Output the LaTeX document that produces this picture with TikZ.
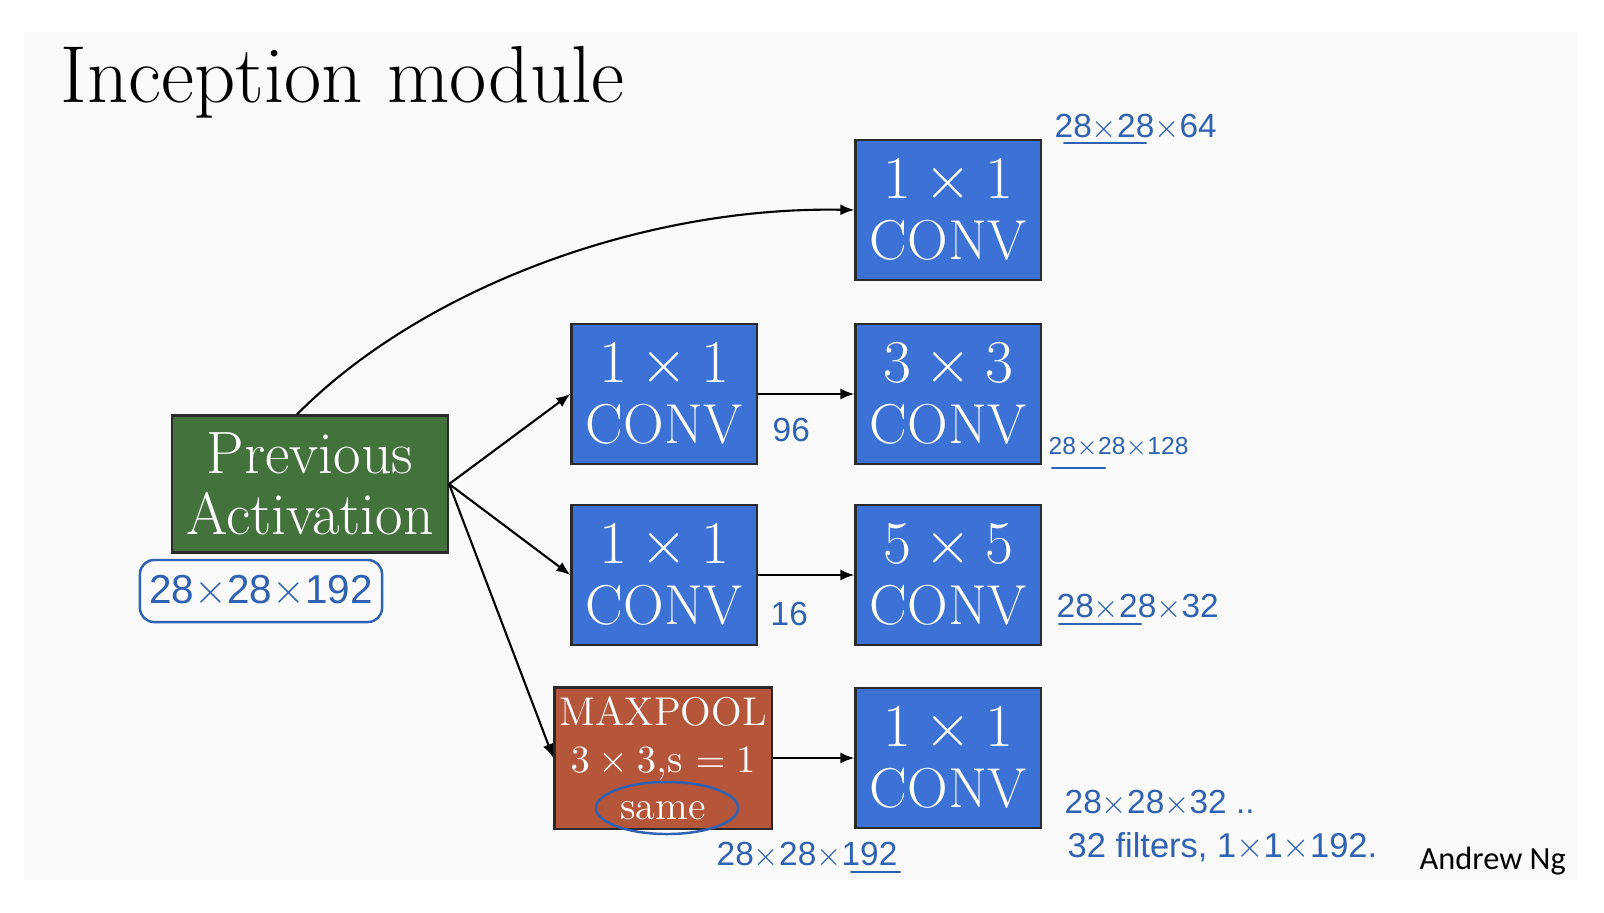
\documentclass[tikz,border=0pt]{standalone}
\usepackage{fontspec}
\newfontfamily\penfont{Liberation Sans}
\newfontfamily\signfont{Carlito}
\usepackage{xcolor}
\definecolor{cConv}{HTML}{3C72D6}
\definecolor{cPrev}{HTML}{43723C}
\definecolor{cPool}{HTML}{B5553A}
\definecolor{cPen}{HTML}{2F62B2}
\definecolor{cBack}{HTML}{FAFAFA}
\definecolor{cEdge}{HTML}{2A2A2A}
\usepackage{tikz}
\usetikzlibrary{positioning,arrows.meta,calc}
\tikzset{
  layer-box/.style={draw=cEdge,line width=0.6pt,text=white,align=center,
    inner sep=0pt},
  conv-box/.style={layer-box,fill=cConv,minimum width=1.85cm,
    minimum height=1.40cm,font=\fontsize{16}{17.4}\selectfont},
  prev-box/.style={layer-box,fill=cPrev,minimum width=2.76cm,
    minimum height=1.37cm,font=\fontsize{17}{17.4}\selectfont},
  pool-box/.style={layer-box,fill=cPool,minimum width=2.17cm,
    minimum height=1.41cm,font=\fontsize{11.4}{13.4}\selectfont},
  arrow/.style={-{Latex[length=1.4mm,width=1.1mm]},line width=0.6pt,draw=black},
  % handwritten notes in blue pen
  pen-note/.style={text=cPen,inner sep=0pt,anchor=west,
    font=\penfont\fontsize{9.5}{11}\selectfont},
  pen-line/.style={draw=cPen,line width=0.6pt,line cap=round},
}

\begin{document}
\begin{tikzpicture}[x=0.01cm,y=-0.01cm]
  \useasboundingbox (0,0) rectangle (1604,912);
  \fill[white] (0,0) rectangle (1604,912);
  \fill[cBack] (24,32) rectangle (1578,880);

  \node[anchor=base west,inner sep=0pt,font=\fontsize{23}{26}\selectfont]
    (title) at (60,102) {Inception module};

  % layers
  \node[prev-box] (prev) at (310,484) {Previous\\Activation};
  \node[conv-box] (convA) at (948,210) {$1\times 1$\\CONV};
  \node[conv-box] (redB)  at (664,394) {$1\times 1$\\CONV};
  \node[conv-box] (convB) at (948,394) {$3\times 3$\\CONV};
  \node[conv-box] (redC)  at (664,575) {$1\times 1$\\CONV};
  \node[conv-box] (convC) at (948,575) {$5\times 5$\\CONV};
  \node[pool-box] (pool)  at (663,758) {MAXPOOL\\$3\times 3$,s $=1$\\same};
  \node[conv-box] (convD) at (948,758) {$1\times 1$\\CONV};

  % connections
  \draw[arrow] ($(prev.north)+(-13,0)$) .. controls (420,290) and (640,206) .. (convA.west);
  \draw[arrow] (prev.east) -- (redB.west);
  \draw[arrow] (prev.east) -- (redC.west);
  \draw[arrow] (prev.east) -- (pool.west);
  \draw[arrow] (redB) -- (convB);
  \draw[arrow] (redC) -- (convC);
  \draw[arrow] (pool) -- (convD);

  % pen notes
  \node[pen-note,draw=cPen,line width=0.7pt,rounded corners=4pt,anchor=center,
    minimum width=2.42cm,minimum height=0.62cm,
    font=\penfont\fontsize{11.5}{13}\selectfont] (inDim) at (261,591) {28$\times$28$\times$192};
  \draw[cPen,line width=0.7pt] (667,808) ellipse [x radius=0.71cm,y radius=0.26cm];
  \node[pen-note] (noteA) at (1054,127) {28$\times$28$\times$64};
  \draw[pen-line] (1064,143) -- (1146,143);
  \node[pen-note,font=\penfont\fontsize{7}{8}\selectfont] (noteB) at (1048,447) {28$\times$28$\times$128};
  \draw[pen-line] (1052,468) -- (1105,468);
  \node[pen-note] (noteC) at (1056,607) {28$\times$28$\times$32};
  \draw[pen-line] (1059,624) -- (1141,624);
  \node[pen-note] (noteD) at (1064,803) {28$\times$28$\times$32 ..};
  \node[pen-note,font=\penfont\fontsize{9.8}{11}\selectfont] (noteE) at (1067,847) {32 filters, 1$\times$1$\times$192.};
  \node[pen-note] (noteF) at (716,855) {28$\times$28$\times$192};
  \draw[pen-line] (851,872) -- (900,872);
  \node[pen-note] (noteG) at (772,430) {96};
  \node[pen-note] (noteH) at (770,614) {16};

  \node[anchor=west,inner sep=0pt,font=\signfont\fontsize{9.2}{11}\selectfont]
    (sign) at (1419,861) {Andrew Ng};
\end{tikzpicture}
\end{document}
